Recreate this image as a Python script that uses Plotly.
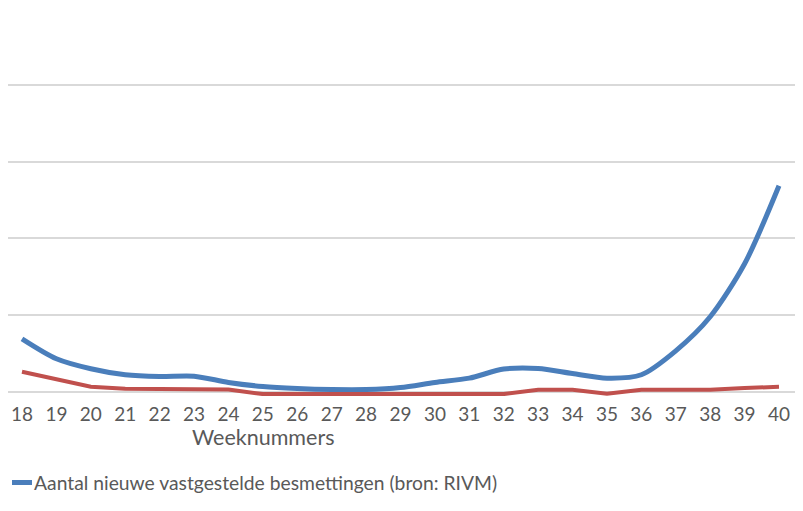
import plotly.graph_objects as go

weeks = list(range(18, 41))
tick_labels = [str(w) for w in weeks]
besmettingen = [3450, 2150, 1500, 1110, 1000, 1020, 610, 345, 215, 150, 150, 280,
                610, 890, 1480, 1520, 1190, 890, 1110, 2670, 4890, 8345, 13430]
tweede_reeks = [1467, 990, 489, 358, 358, 358, 310, 15, 15, 15, 15, 15,
                15, 15, 15, 293, 293, 30, 293, 293, 293, 404, 489]
legend_text = "Aantal nieuwe vastgestelde besmettingen (bron: RIVM)"
axis_title = "Weeknummers"

# page body has an 8px default margin; figure fills the rest of the window
OFF = 8
W, H = 803 - OFF, 511 - OFF
L, R, T, B = 0, 8, 0, 115
plot_w = W - L - R
plot_h = H - T - B
font_fam = "Lato, 'Open Sans', sans-serif"
grey_txt = "#595959"

fig = go.Figure()
fig.add_trace(go.Scatter(x=weeks, y=tweede_reeks, mode="lines", yaxis="y2",
                         line=dict(color="#C0504D", width=4), showlegend=False))
fig.add_trace(go.Scatter(x=weeks, y=besmettingen, mode="lines",
                         line=dict(color="#4A7EBB", width=5, shape="spline", smoothing=0.8),
                         showlegend=False))

def py(ys):
    return (H - B - (ys - OFF)) / plot_h

def px(xs):
    return (xs - OFF - L) / plot_w

u = 25000 / 383.5
y_hi = 25000 + 0.3 * u
y_lo = y_hi - plot_h * u

fig.update_layout(
    width=W, height=H,
    margin=dict(l=L, r=R, t=T, b=B, autoexpand=False),
    paper_bgcolor="white", plot_bgcolor="white",
    xaxis=dict(range=[17.593, 40.465], tickvals=weeks, ticktext=tick_labels,
               showgrid=False, zeroline=False, showline=False, ticks="", automargin=False,
               ticklabelstandoff=5,
               tickfont=dict(family=font_fam, size=19, color=grey_txt)),
    yaxis=dict(range=[y_lo, y_hi], tickvals=[0, 5000, 10000, 15000, 20000, 25000],
               showticklabels=False, showgrid=True, gridcolor="#d9d9d9", gridwidth=2,
               zeroline=False, showline=False, ticks="", automargin=False),
    yaxis2=dict(range=[y_lo + 2.5 * u, y_hi + 2.5 * u], overlaying="y", showticklabels=False,
                showgrid=False, zeroline=False, showline=False, ticks="", automargin=False),
    annotations=[
        dict(text=axis_title, xref="paper", yref="paper", x=px(263),
             y=py(437), showarrow=False, xanchor="center", yanchor="middle",
             font=dict(family=font_fam, size=21.5, color=grey_txt)),
        dict(text=legend_text, xref="paper", yref="paper", x=px(32),
             y=py(482), showarrow=False, xanchor="left", yanchor="middle",
             font=dict(family=font_fam, size=19.3, color=grey_txt)),
    ],
    shapes=[
        dict(type="line", xref="paper", yref="paper",
             x0=px(12), x1=px(32), y0=py(482.5), y1=py(482.5),
             line=dict(color="#4A7EBB", width=5)),
    ],
)

fig.write_html("out.html")
